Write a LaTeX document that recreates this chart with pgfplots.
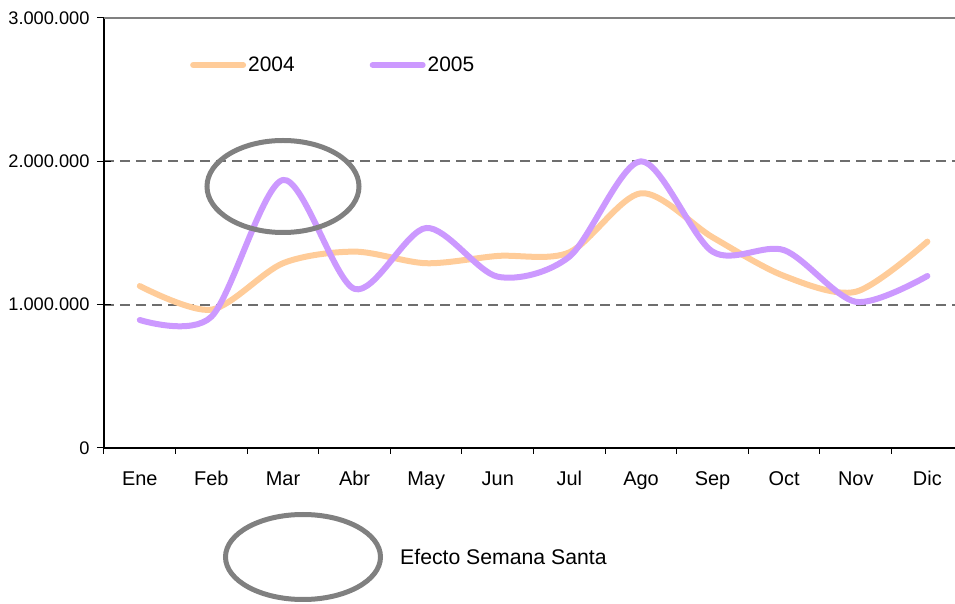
\documentclass[border=0pt]{standalone}
\usepackage{fontspec}
\setmainfont{Liberation Sans}
\usepackage{pgfplots}
\pgfplotsset{compat=1.18}
\definecolor{c2004}{HTML}{FFCC99}
\definecolor{c2005}{HTML}{CC99FF}
\definecolor{annot}{HTML}{808080}
\definecolor{gridc}{HTML}{6E6E6E}
\begin{document}
\begin{tikzpicture}[x=1bp,y=1bp]
\path[use as bounding box] (-104,-156) rectangle (851,448);
\begin{axis}[
  at={(0,0)}, anchor=south west,
  scale only axis, width=851bp, height=430bp,
  xmin=-0.5, xmax=11.386, ymin=0, ymax=3000000,
  axis x line*=bottom, axis y line*=left,
  x axis line style={black, line width=1.6bp, -},
  y axis line style={black, line width=1.3bp, -},
  xtick={0,...,11},
  xticklabels={Ene,Feb,Mar,Abr,May,Jun,Jul,Ago,Sep,Oct,Nov,Dic},
  major x tick style={draw=none},
  minor xtick={-0.5,0.5,...,10.5},
  minor x tick style={black, line width=1bp},
  minor tick length=6bp,
  xtick align=outside,
  ytick={0,1000000,2000000,3000000},
  yticklabels={0,1.000.000,2.000.000,3.000.000},
  scaled y ticks=false,
  ytick align=center,
  major y tick style={black, line width=1bp},
  major tick length=14bp,
  ymajorgrids,
  y grid style={gridc, line width=1.8bp, dash pattern=on 10bp off 6bp},
  xticklabel style={font=\fontsize{20}{22}\selectfont, anchor=base, yshift=-23bp},
  yticklabel style={font=\fontsize{18.3}{22}\selectfont, anchor=east, xshift=-4bp},
  clip=true,
  legend columns=2,
  legend style={at={(rel axis cs:0.101,0.8907)}, anchor=west, draw=none, fill=none,
    inner sep=0pt, font=\fontsize{21}{24}\selectfont,
    nodes={inner sep=2bp, anchor=west},
    /tikz/every even column/.append style={column sep=73bp}},
  legend image code/.code={\draw[#1, line width=6bp, line cap=round] (0bp,0bp) -- (50bp,0bp);},
]
\draw[annot, line width=1.4bp] (axis cs:-0.5,3000000) -- (axis cs:11.386,3000000);
\addplot[c2004, line width=6bp, smooth, tension=0.5, line cap=round, line join=round] coordinates {
(0,1130000) (1,965000) (2,1289000) (3,1370000) (4,1289000) (5,1340000)
(6,1365000) (7,1777000) (8,1470000) (9,1200000) (10,1090000) (11,1440000)};
\addlegendentry{2004}
\addplot[c2005, line width=6bp, smooth, tension=0.5, line cap=round, line join=round] coordinates {
(0,893000) (1,916000) (2,1870000) (3,1110000) (4,1535000) (5,1195000)
(6,1335000) (7,2000000) (8,1370000) (9,1380000) (10,1020000) (11,1200000)};
\addlegendentry{2005}
\end{axis}
\draw[annot, line width=5bp] (179,261.5) ellipse [x radius=76, y radius=46];
\draw[annot, line width=5bp] (199,-109) ellipse [x radius=77.5, y radius=42.5];
\node[anchor=west, inner sep=0pt, font=\fontsize{21.3}{24}\selectfont] at (296,-109) {Efecto Semana Santa};
\end{tikzpicture}
\end{document}
